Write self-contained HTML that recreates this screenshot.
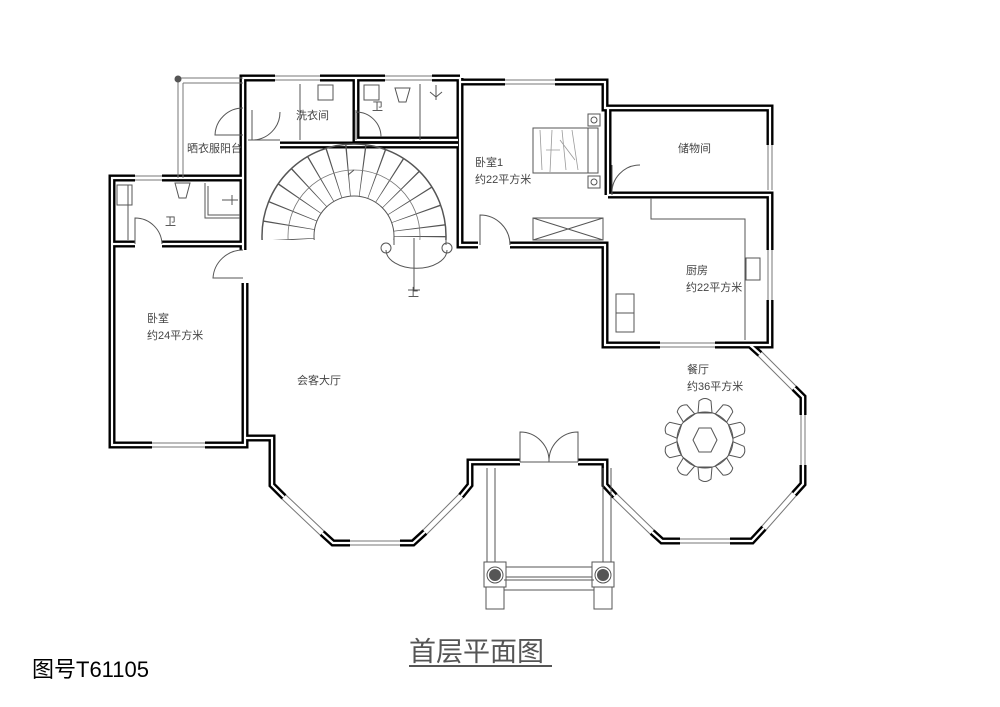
<!DOCTYPE html>
<html><head><meta charset="utf-8"><style>
html,body{margin:0;padding:0;background:#fff;width:1000px;height:707px;overflow:hidden}
svg{display:block}
text{font-family:"Liberation Sans","Noto Sans CJK SC",sans-serif;fill:#444}
.w{fill:none;stroke:#000;stroke-width:7;stroke-linejoin:miter}
.wi{fill:none;stroke:#fff;stroke-width:2.2}
.t{fill:none;stroke:#555;stroke-width:1}
.win{fill:none;stroke:#777;stroke-width:1}
</style></head><body>
<svg width="1000" height="707" viewBox="0 0 1000 707">
<defs>
<g id="walls">
<polyline points="243,135 243,78 275,78"/>
<polyline points="320,78 385,78"/>
<polyline points="432,78 460,78"/>
<polyline points="356,78 356,140 372,140"/>
<polyline points="243,135 243,145"/>
<polyline points="280,145 458,145"/>
<polyline points="372,140 458,140"/>
<polyline points="460,78 460,245 478,245"/>
<polyline points="460,82 505,82"/>
<polyline points="555,82 605,82 605,108 770,108 770,145"/>
<polyline points="510,245 605,245 605,345 660,345"/>
<polyline points="608,108 608,195"/>
<polyline points="608,195 770,195 770,250"/>
<polyline points="770,300 770,345 715,345"/>
<polyline points="135,178 112,178 112,445 152,445"/>
<polyline points="162,178 243,178"/>
<polyline points="112,244 135,244"/>
<polyline points="162,244 243,244"/>
<polyline points="205,445 245,445 245,283"/>
<polyline points="243,145 243,250"/>
<!-- hall -->
<polyline points="245,438 272,438 272,485 284,497"/>
<polyline points="322,533 333,543 350,543"/>
<polyline points="400,543 413,543 425,532"/>
<polyline points="461,496 470,485 470,462 520,462"/>
<polyline points="578,462 605,462 605,485 615,496"/>
<polyline points="652,532 662,541 680,541"/>
<polyline points="730,541 752,541 764,528"/>
<polyline points="794,494 803,484 803,465"/>
<polyline points="803,415 803,397 794,388"/>
<polyline points="760,354 750,345"/>
</g>
</defs>
<g class="w"><use href="#walls"/></g>
<g class="wi"><use href="#walls"/></g>

<g class="win">
<path d="M275,76H320M275,80H320M385,76H432M385,80H432M505,80H555M505,84H555M135,176H162M135,180H162M152,443H205M152,447H205M660,343H715M660,347H715M768,145V190M772,145V190M768,250V300M772,250V300M801,415V465M805,415V465M350,541H400M350,545H400M680,539H730M680,543H730"/>
<path d="M282,499L320,535M286,495L324,531M427,534L463,498M423,530L459,494M613,498L650,534M617,494L654,530M766,530L796,496M762,526L792,492M758,356L792,390M762,352L796,386"/>
<path d="M178,78H243M178,78V178M183,83V178M183,83H243"/>
</g>
<circle cx="178" cy="79" r="3.5" fill="#555"/>

<g class="t">
<rect x="318" y="85" width="15" height="15"/><rect x="364" y="85" width="15" height="15"/>
<path d="M395,88H410L406,102H399Z"/>
<path d="M436,85V100M430,92L436,97L442,92"/>
<path d="M420,84V140M300,84V140M248,140H280"/>
<rect x="117" y="185" width="15" height="20"/>
<path d="M175,183H190L186,198H179Z"/>
<path d="M205,183V218H240M208,186V215H240"/>
<path d="M222,200H238M232,195V205"/>
<path d="M128,185V240"/>
<path d="M243,108A28,28 0 0 0 215,135H243"/>
<path d="M252,110V140A28,28 0 0 0 280,112"/>
<path d="M356,110V140M356,112A25,25 0 0 1 381,137"/>
<path d="M135,244V218A27,27 0 0 1 162,244"/>
<path d="M243,250A30,30 0 0 0 213,278H243"/>
<path d="M480,245V215A30,30 0 0 1 510,245"/>
<path d="M612,165V195A28,28 0 0 1 640,165"/>
<path d="M520,462V432A29,29 0 0 1 549,462M578,462V432A29,29 0 0 0 549,462M520,462H578"/>
<rect x="533" y="128" width="55" height="45"/>
<rect x="588" y="128" width="10" height="45"/>
<rect x="588" y="114" width="12" height="12"/><rect x="588" y="176" width="12" height="12"/>
<circle cx="594" cy="120" r="3"/><circle cx="594" cy="182" r="3"/>
<path d="M533,218H603V240H533ZM533,218L603,240M603,218L533,240"/>
<path d="M651,198V219H745V340"/>
<rect x="746" y="258" width="14" height="22"/>
<rect x="616" y="294" width="18" height="38"/><path d="M616,313H634"/>
</g>
<g stroke="#999" stroke-width="0.8" fill="none"><path d="M540,130L542,170M552,130L550,172M562,130L566,170M572,130L578,170M546,150L560,150M560,140L575,160"/></g>

<defs><clipPath id="top"><rect x="250" y="140" width="210" height="100"/></clipPath></defs>
<g clip-path="url(#top)">
<circle cx="354" cy="236" r="66" fill="none" stroke="#555" stroke-width="52" stroke-dasharray="1 13.5"/>
<circle cx="354" cy="236" r="92" fill="none" stroke="#555" stroke-width="1.5"/>
<circle cx="354" cy="236" r="40" fill="none" stroke="#555" stroke-width="1"/>
<circle cx="354" cy="236" r="66" fill="none" stroke="#777" stroke-width="0.8"/>
</g>
<g class="t">
<path d="M262,236V230M446,236V245M394,236V245"/>
<path d="M386,250A30,18 0 0 0 447,250"/>
<circle cx="386" cy="248" r="5"/><circle cx="447" cy="248" r="5"/>
<path d="M414,238V290M408,290H420M354,170L348,175"/>
</g>

<g class="t">
<circle cx="705" cy="440" r="28"/>
<polygon points="699,428 711,428 717,440 711,452 699,452 693,440"/>
<g id="ch"><path d="M699,401Q705,396 711,401L712,413H698Z"/></g>
<use href="#ch" transform="rotate(36 705 440)"/><use href="#ch" transform="rotate(72 705 440)"/>
<use href="#ch" transform="rotate(108 705 440)"/><use href="#ch" transform="rotate(144 705 440)"/>
<use href="#ch" transform="rotate(180 705 440)"/><use href="#ch" transform="rotate(216 705 440)"/>
<use href="#ch" transform="rotate(252 705 440)"/><use href="#ch" transform="rotate(288 705 440)"/>
<use href="#ch" transform="rotate(324 705 440)"/>
</g>

<g class="t">
<path d="M487,468V562M495,468V562M603,468V562M611,468V562"/>
<rect x="484" y="562" width="22" height="25"/><rect x="592" y="562" width="22" height="25"/>
<rect x="486" y="587" width="18" height="22"/><rect x="594" y="587" width="18" height="22"/>
<path d="M506,567H592M506,577H592M504,580H594M504,590H594"/>
</g>
<circle cx="495" cy="575" r="6" fill="#555"/><circle cx="603" cy="575" r="6" fill="#555"/>
<circle cx="495" cy="575" r="8" fill="none" stroke="#555"/><circle cx="603" cy="575" r="8" fill="none" stroke="#555"/>

<g font-size="11">
<text x="296" y="119">洗衣间</text>
<text x="372" y="110">卫</text>
<text x="187" y="152">晒衣服阳台</text>
<text x="165" y="225">卫</text>
<text x="475" y="166">卧室1</text>
<text x="475" y="183">约22平方米</text>
<text x="678" y="152">储物间</text>
<text x="686" y="274">厨房</text>
<text x="686" y="291">约22平方米</text>
<text x="147" y="322">卧室</text>
<text x="147" y="339">约24平方米</text>
<text x="297" y="384">会客大厅</text>
<text x="687" y="373">餐厅</text>
<text x="687" y="390">约36平方米</text>
<text x="408" y="296">上</text>
</g>
<text x="409" y="661" font-size="27" style="fill:#555">首层平面图</text>
<rect x="409" y="665" width="143" height="2" fill="#555"/>
<text x="32" y="677" font-size="22" style="fill:#000">图号T61105</text>
</svg>
</body></html>
